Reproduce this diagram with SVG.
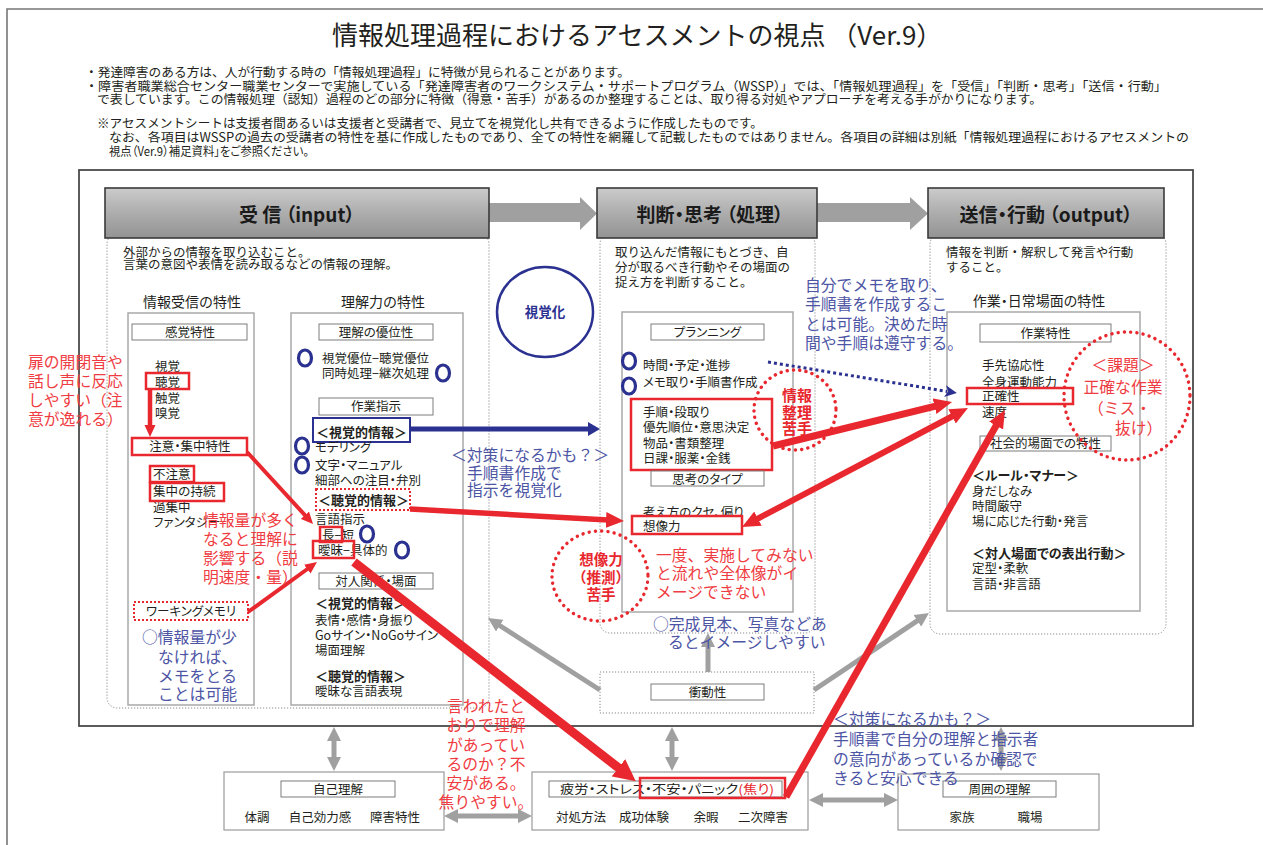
<svg xmlns="http://www.w3.org/2000/svg" width="1263" height="845" viewBox="0 0 1263 845">
<style>
text{font-family:"Noto Sans CJK JP","Noto Sans",sans-serif;fill:#231f20;font-size:12.5px}
.pa{font-feature-settings:"palt"}
.b{font-weight:700}
.hd{font-size:19px;font-weight:700;text-anchor:middle;fill:#1a1a1a}
.m{text-anchor:middle}
.sec{font-size:14px;text-anchor:middle}
.rt{fill:#ef3c42;font-size:15.8px}
.bt{fill:#4d55a5;font-size:15.8px}
.rb{fill:#e8282e;font-weight:700;font-size:15px;text-anchor:middle}
.hb{fill:url(#hg);stroke:#3a3a3a;stroke-width:1.6}
.dp{fill:none;stroke:#8a8a8a;stroke-width:1;stroke-dasharray:1.2 1.8}
.ib{fill:#fff;stroke:#a9a9a9;stroke-width:1.5}
.lb{fill:#fff;stroke:#7d7d7d;stroke-width:1}
.rbx{fill:none;stroke:#e8282e;stroke-width:2.5}
.rdb{fill:none;stroke:#e8282e;stroke-width:2;stroke-dasharray:2 2}
.rdc{fill:none;stroke:#e8282e;stroke-width:3.4;stroke-dasharray:0.1 6.2;stroke-linecap:round}
.bc{fill:none;stroke:#2b3190;stroke-width:3.2}
.bx{fill:#fff;stroke:#9a9a9a;stroke-width:1.2}
.rl{fill:none;stroke:#e8282e}
.gl{fill:none;stroke:#a0a0a0;stroke-width:5}
</style>
<defs>
<linearGradient id="hg" x1="0" y1="0" x2="0" y2="1">
<stop offset="0" stop-color="#cbcbcb"/><stop offset="0.5" stop-color="#adadad"/><stop offset="1" stop-color="#939393"/>
</linearGradient>
<marker id="mrS" markerUnits="userSpaceOnUse" markerWidth="12" markerHeight="12" viewBox="0 0 12 12" refX="1" refY="6" orient="auto"><path d="M0,0.5 L12,6 L0,11.5 z" fill="#e8282e"/></marker>
<marker id="mrM" markerUnits="userSpaceOnUse" markerWidth="18" markerHeight="18" viewBox="0 0 18 18" refX="2" refY="9" orient="auto-start-reverse"><path d="M0,1 L18,9 L0,17 z" fill="#e8282e"/></marker>
<marker id="mrL" markerUnits="userSpaceOnUse" markerWidth="22" markerHeight="22" viewBox="0 0 22 22" refX="2" refY="11" orient="auto"><path d="M0,0 L22,11 L0,22 z" fill="#e8282e"/></marker>
<marker id="mb" markerUnits="userSpaceOnUse" markerWidth="12" markerHeight="14" viewBox="0 0 12 14" refX="1" refY="7" orient="auto"><path d="M0,0 L12,7 L0,14 z" fill="#2b3190"/></marker>
<marker id="mbd" markerUnits="userSpaceOnUse" markerWidth="12" markerHeight="12" viewBox="0 0 12 12" refX="2" refY="6" orient="auto"><path d="M0,0 L12,6 L0,12 L3,6 z" fill="#2b3190"/></marker>
<marker id="mg" markerUnits="userSpaceOnUse" markerWidth="14" markerHeight="14" viewBox="0 0 14 14" refX="2" refY="7" orient="auto-start-reverse"><path d="M0,0 L14,7 L0,14 z" fill="#a0a0a0"/></marker>
</defs>
<rect width="1263" height="845" fill="#fff"/>
<path d="M7,845 V9 H1263" fill="none" stroke="#777" stroke-width="1.6"/>

<g id="header">
<text x="332" y="45" style="font-size:26px">情報処理過程におけるアセスメントの視点 （Ver.9）</text>
<text x="85" y="77" textLength="545" lengthAdjust="spacingAndGlyphs">・発達障害のある方は、人が行動する時の「情報処理過程」に特徴が見られることがあります。</text>
<text x="85" y="91" textLength="1082" lengthAdjust="spacingAndGlyphs">・障害者職業総合センター職業センターで実施している「発達障害者のワークシステム・サポートプログラム（WSSP）」では、「情報処理過程」を「受信」「判断・思考」「送信・行動」</text>
<text x="97" y="104" textLength="945" lengthAdjust="spacingAndGlyphs">で表しています。この情報処理（認知）過程のどの部分に特徴（得意・苦手）があるのか整理することは、取り得る対処やアプローチを考える手がかりになります。</text>
<text x="97" y="128" textLength="666" lengthAdjust="spacingAndGlyphs">※アセスメントシートは支援者間あるいは支援者と受講者で、見立てを視覚化し共有できるように作成したものです。</text>
<text x="109" y="142" textLength="1080" lengthAdjust="spacingAndGlyphs">なお、各項目はWSSPの過去の受講者の特性を基に作成したものであり、全ての特性を網羅して記載したものではありません。各項目の詳細は別紙「情報処理過程におけるアセスメントの</text>
<text class="pa" x="109" y="156" textLength="200" lengthAdjust="spacingAndGlyphs">視点（Ver.9）補足資料」をご参照ください。</text>
</g>

<rect x="79" y="170" width="1114" height="556" fill="none" stroke="#4a4a4a" stroke-width="1.8"/>

<g id="panels">
<rect class="dp" x="107" y="234" width="382" height="474" rx="10"/>
<rect class="dp" x="600" y="234" width="215" height="399" rx="10"/>
<rect class="dp" x="930" y="234" width="236" height="400" rx="10"/>
<rect class="dp" x="600" y="672" width="214" height="41"/>
</g>

<g id="big-arrows">
<polygon points="489,203 580,203 580,197 597,213.5 580,230 580,222 489,222" fill="#a0a0a0"/>
<polygon points="817,203 910,203 910,197 928,213.5 910,230 910,222 817,222" fill="#a0a0a0"/>
</g>

<g id="head-input"><rect class="hb" x="105" y="188" width="384" height="50"/><text class="hd pa" x="297" y="222">受 信 （input）</text></g>
<g id="head-think"><rect class="hb" x="597" y="188" width="220" height="50"/><text class="hd pa" x="710" y="222">判断・思考 （処理）</text></g>
<g id="head-output"><rect class="hb" x="928" y="188" width="236" height="50"/><text class="hd pa" x="1046" y="222">送信・行動 （output）</text></g>

<g id="input-panel">
<text x="123" y="257">外部からの情報を取り込むこと。</text>
<text x="123" y="269">言葉の意図や表情を読み取るなどの情報の理解。</text>
<text class="sec" x="192" y="307">情報受信の特性</text>
<text class="sec" x="383" y="307">理解力の特性</text>
</g>

<g id="reception-box">
<rect class="ib" x="128" y="313" width="126" height="392"/>
<rect class="lb" x="132" y="324" width="115" height="16"/><text class="m pa" x="190" y="336.7">感覚特性</text>
<text x="155" y="370.7">視覚</text>
<text x="155" y="386.7">聴覚</text>
<text x="155" y="402.7">触覚</text>
<text x="155" y="417.7">嗅覚</text>
<rect class="rbx" x="146" y="373" width="43" height="16"/>
<rect fill="#fff" stroke="#e8282e" stroke-width="2.5" x="132" y="438" width="115" height="17"/><text class="m pa" x="190" y="451.2">注意・集中特性</text>
<text x="153" y="478.7">不注意</text>
<text x="153" y="495.7">集中の持続</text>
<text x="153" y="511.7">過集中</text>
<text class="pa" x="153" y="526.7">ファンタジー</text>
<rect class="rbx" x="150" y="466" width="44" height="16"/>
<rect class="rbx" x="150" y="483" width="74" height="18"/>
<rect fill="#fff" class="rdb" x="134" y="602" width="114" height="18"/><text class="m pa" x="191" y="615.7">ワーキングメモリ</text>
</g>

<g id="comprehension-box">
<rect class="ib" x="291" y="313" width="172" height="392"/>
<rect class="lb" x="319" y="324" width="114" height="16"/><text class="m pa" x="376" y="336.7">理解の優位性</text>
<text class="pa" x="322" y="362.7">視覚優位−聴覚優位</text>
<text class="pa" x="322" y="377.7">同時処理−継次処理</text>
<rect class="lb" x="319" y="398" width="114" height="17"/><text class="m pa" x="376" y="411.2">作業指示</text>
<rect fill="none" stroke="#2b3190" stroke-width="2" x="313" y="418" width="97" height="24"/>
<text class="b pa" x="316" y="436.5" style="font-size:13px">＜視覚的情報＞</text>
<text class="pa" x="315" y="451.7">モデリング</text>
<text class="pa" x="315" y="469.7">文字・マニュアル</text>
<text class="pa" x="315" y="484.7">細部への注目・弁別</text>
<rect class="rdb" x="316" y="489" width="94" height="21"/>
<text class="b pa" x="318" y="505" style="font-size:13px">＜聴覚的情報＞</text>
<text class="pa" x="315" y="523.7">言語指示</text>
<text class="pa" x="322" y="539.7">長−短</text>
<text class="pa" x="318" y="554.7">曖昧−具体的</text>
<rect class="rbx" x="320" y="527" width="22" height="15"/>
<rect class="rbx" x="313" y="541" width="41" height="17"/>
<rect class="lb" x="319" y="573" width="114" height="16"/><text class="m pa" x="376" y="585.7">対人関係・場面</text>
<text class="b pa" x="315" y="608" style="font-size:13px">＜視覚的情報＞</text>
<text class="pa" x="315" y="624.7">表情・感情・身振り</text>
<text class="pa" x="315" y="639.7">Goサイン・NoGoサイン</text>
<text class="pa" x="315" y="654.7">場面理解</text>
<text class="b pa" x="315" y="681" style="font-size:13px">＜聴覚的情報＞</text>
<text class="pa" x="315" y="695.7">曖昧な言語表現</text>
<ellipse class="bc" cx="305" cy="358" rx="6.5" ry="8"/>
<ellipse class="bc" cx="443" cy="373" rx="6.5" ry="8"/>
<ellipse class="bc" cx="302" cy="446" rx="6.5" ry="8"/>
<ellipse class="bc" cx="302" cy="465" rx="6.5" ry="8"/>
<ellipse class="bc" cx="367" cy="534" rx="6.5" ry="8"/>
<ellipse class="bc" cx="402" cy="550" rx="6.5" ry="8"/>
</g>

<g id="visualize">
<ellipse cx="545" cy="312" rx="48" ry="45" fill="none" stroke="#2b3190" stroke-width="2.5"/>
<text class="b m" x="545" y="317" style="fill:#2b3190;font-size:13.5px">視覚化</text>
</g>

<g id="think-panel">
<text x="615" y="257">取り込んだ情報にもとづき、自</text>
<text x="615" y="272">分が取るべき行動やその場面の</text>
<text x="615" y="287">捉え方を判断すること。</text>
<rect class="ib" x="622" y="312" width="171" height="300"/>
<rect class="lb" x="651" y="324" width="113" height="16"/><text class="m pa" x="707.5" y="336.7">プランニング</text>
<ellipse class="bc" cx="629" cy="361" rx="6.5" ry="8"/>
<ellipse class="bc" cx="629" cy="386" rx="6.5" ry="8"/>
<text class="pa" x="643" y="369.7">時間・予定・進捗</text>
<text class="pa" x="643" y="386.7">メモ取り・手順書作成</text>
<text class="pa" x="643" y="416.7">手順・段取り</text>
<text class="pa" x="643" y="431.7">優先順位・意思決定</text>
<text class="pa" x="643" y="447.7">物品・書類整理</text>
<text class="pa" x="643" y="462.7">日課・服薬・金銭</text>
<rect class="rbx" x="631" y="399" width="141" height="71"/>
<rect class="lb" x="651" y="471" width="113" height="15"/><text class="m pa" x="707.5" y="483.5">思考のタイプ</text>
<text class="pa" x="643" y="516.7">考え方のクセ、偏り</text>
<rect fill="#fff" stroke="#e8282e" stroke-width="2.5" x="632" y="516" width="110" height="18"/>
<text class="pa" x="643" y="530.7">想像力</text>
</g>

<g id="impulsivity">
<rect class="lb" x="651" y="684" width="113" height="16"/><text class="m pa" x="707.5" y="696.7">衝動性</text>
</g>

<g id="output-panel">
<text x="946" y="257">情報を判断・解釈して発言や行動</text>
<text x="946" y="272">すること。</text>
<text class="sec pa" x="1039" y="306">作業・日常場面の特性</text>
<rect class="ib" x="947" y="312" width="193" height="299"/>
<rect class="lb" x="980" y="324" width="131" height="18"/><text class="m pa" x="1045.5" y="337.7">作業特性</text>
<text class="pa" x="982" y="369.7">手先協応性</text>
<text class="pa" x="982" y="386.7">全身運動能力</text>
<text class="pa" x="982" y="400.7">正確性</text>
<text class="pa" x="982" y="416.7">速度</text>
<rect class="rbx" x="967" y="388" width="106" height="16"/>
<rect class="lb" x="980" y="436" width="131" height="15"/><text class="m pa" x="1045.5" y="448.2">社会的場面での特性</text>
<text class="b pa" x="972" y="480" style="font-size:13px">＜ルール・マナー＞</text>
<text class="pa" x="972" y="495.7">身だしなみ</text>
<text class="pa" x="972" y="510.7">時間厳守</text>
<text class="pa" x="972" y="525.7">場に応じた行動・発言</text>
<text class="b pa" x="972" y="558" style="font-size:13px">＜対人場面での表出行動＞</text>
<text class="pa" x="972" y="572.7">定型・柔軟</text>
<text class="pa" x="972" y="588.7">言語・非言語</text>
</g>

<g id="bottom-arrows">
<line class="gl" x1="334" y1="739" x2="334" y2="759" marker-start="url(#mg)" marker-end="url(#mg)"/>
<line class="gl" x1="672" y1="739" x2="672" y2="759" marker-start="url(#mg)" marker-end="url(#mg)"/>
<line class="gl" x1="1001" y1="739" x2="1001" y2="759" marker-start="url(#mg)" marker-end="url(#mg)"/>
<line class="gl" x1="456" y1="816" x2="520" y2="816" marker-start="url(#mg)" marker-end="url(#mg)"/>
<line class="gl" x1="821" y1="800" x2="886" y2="800" marker-start="url(#mg)" marker-end="url(#mg)"/>
</g>

<g id="self-understanding">
<rect class="bx" x="224" y="772" width="220" height="58"/>
<rect class="lb" x="281" y="781" width="114" height="16"/><text class="m pa" x="338" y="793.7">自己理解</text>
<text class="m" x="257" y="822">体調</text>
<text class="m" x="320" y="822">自己効力感</text>
<text class="m" x="395" y="822">障害特性</text>
</g>
<g id="fatigue">
<rect class="bx" x="532" y="772" width="276" height="58"/>
<rect class="lb" x="549" y="781" width="233" height="16"/>
<text class="pa" x="560" y="793.7" textLength="214" lengthAdjust="spacingAndGlyphs">疲労・ストレス・不安・パニック<tspan fill="#e8282e">(焦り)</tspan></text>
<rect class="rbx" x="640" y="778" width="145" height="20"/>
<text class="m" x="581" y="822">対処方法</text>
<text class="m" x="644" y="822">成功体験</text>
<text class="m" x="706" y="822">余暇</text>
<text class="m" x="763" y="822">二次障害</text>
</g>
<g id="surroundings">
<rect class="bx" x="898" y="774" width="201" height="56"/>
<rect class="lb" x="943" y="781" width="113" height="16"/><text class="m pa" x="999.5" y="793.7">周囲の理解</text>
<text class="m" x="962" y="822">家族</text>
<text class="m" x="1030" y="822">職場</text>
</g>

<g id="connectors">
<line class="gl" x1="708" y1="672" x2="708" y2="645" marker-end="url(#mg)"/>
<line class="gl" x1="600" y1="690" x2="498.1" y2="624.5" marker-end="url(#mg)"/>
<line class="gl" x1="814" y1="690" x2="919" y2="619.7" marker-end="url(#mg)"/>
<line x1="410" y1="429" x2="589" y2="429" stroke="#2b3190" stroke-width="5" marker-end="url(#mb)"/>
<line x1="768" y1="362" x2="947" y2="391.4" stroke="#2b3190" stroke-width="3" stroke-dasharray="3 3" marker-end="url(#mbd)"/>
<line class="rl" x1="150" y1="389" x2="150" y2="426" stroke-width="4.5" marker-end="url(#mrS)"/>
<line class="rl" x1="247" y1="452" x2="305.6" y2="515.9" stroke-width="4" marker-end="url(#mrS)"/>
<line class="rl" x1="248" y1="612" x2="308.1" y2="568.5" stroke-width="4" marker-end="url(#mrS)"/>
<line class="rl" x1="410" y1="509" x2="608" y2="520" stroke-width="5.5" marker-end="url(#mrM)"/>
<line class="rl" x1="354" y1="562" x2="620" y2="769" stroke-width="9" marker-end="url(#mrL)"/>
<line class="rl" x1="773" y1="446" x2="936.5" y2="405.8" stroke-width="7" marker-end="url(#mrM)"/>
<line class="rl" x1="756.2" y1="519.5" x2="953.8" y2="415.5" stroke-width="6" marker-start="url(#mrM)" marker-end="url(#mrM)"/>
<line class="rl" x1="786" y1="797" x2="997.1" y2="423.9" stroke-width="7" marker-end="url(#mrM)"/>
</g>

<g id="dotted-circles">
<ellipse class="rdc" cx="795" cy="410" rx="41" ry="40"/>
<text class="rb" x="797" y="400.7">情報</text>
<text class="rb" x="797" y="417.7">整理</text>
<text class="rb" x="797" y="433.7">苦手</text>
<ellipse class="rdc" cx="600" cy="576" rx="48" ry="45"/>
<text class="rb" x="601" y="564.5" style="font-size:14.5px">想像力</text>
<text class="rb" x="601" y="582.5" style="font-size:14.5px">（推測）</text>
<text class="rb" x="601" y="599.5" style="font-size:14.5px">苦手</text>
<ellipse class="rdc" cx="1127" cy="396" rx="63" ry="64"/>
<text class="rt m" x="1123" y="371">＜課題＞</text>
<text class="rt m" x="1123" y="393">正確な作業</text>
<text class="rt" x="1088" y="414">（ミス・</text>
<text class="rt" x="1115" y="434">抜け）</text>
</g>

<g id="annotations">
<text class="rt" x="28" y="368">扉の開閉音や</text>
<text class="rt" x="28" y="387">話し声に反応</text>
<text class="rt" x="28" y="406">しやすい（注</text>
<text class="rt" x="28" y="425">意が逸れる）</text>
<text class="rt" x="203" y="526">情報量が多く</text>
<text class="rt" x="203" y="545">なると理解に</text>
<text class="rt" x="203" y="564">影響する（説</text>
<text class="rt" x="203" y="583">明速度・量）</text>
<text class="bt" x="142" y="643">○情報量が少</text>
<text class="bt" x="158" y="663">なければ、</text>
<text class="bt" x="158" y="682">メモをとる</text>
<text class="bt" x="158" y="700">ことは可能</text>
<text class="bt" x="451" y="461">＜対策になるかも？＞</text>
<text class="bt" x="467" y="479">手順書作成で</text>
<text class="bt" x="467" y="496">指示を視覚化</text>
<text class="bt" x="805" y="291">自分でメモを取り、</text>
<text class="bt" x="805" y="310">手順書を作成するこ</text>
<text class="bt" x="805" y="330">とは可能。決めた時</text>
<text class="bt" x="805" y="349">間や手順は遵守する。</text>
<text class="rt" x="656" y="561">一度、実施してみない</text>
<text class="rt" x="656" y="579">と流れや全体像がイ</text>
<text class="rt" x="656" y="598">メージできない</text>
<text class="bt" x="653" y="630">○完成見本、写真などあ</text>
<text class="bt" x="668" y="648">るとイメージしやすい</text>
<text class="rt m" x="486" y="712">言われたと</text>
<text class="rt m" x="486" y="731">おりで理解</text>
<text class="rt m" x="486" y="751">があってい</text>
<text class="rt m" x="486" y="770">るのか？不</text>
<text class="rt m" x="486" y="789">安がある。</text>
<text class="rt m" x="486" y="808">焦りやすい。</text>
<text class="bt" x="833" y="725">＜対策になるかも？＞</text>
<text class="bt" x="833" y="745">手順書で自分の理解と指示者</text>
<text class="bt" x="833" y="765">の意向があっているか確認で</text>
<text class="bt" x="833" y="784">きると安心できる</text>
</g>
</svg>
